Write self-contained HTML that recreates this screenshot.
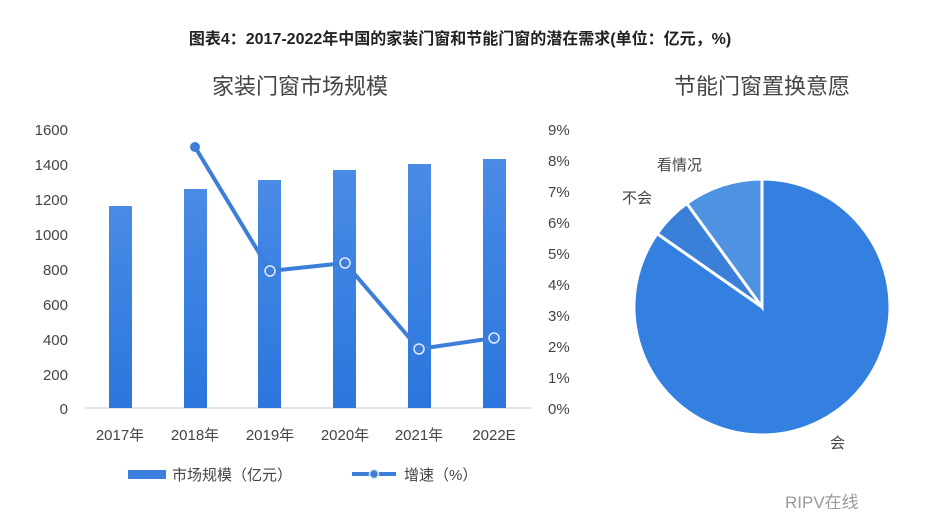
<!DOCTYPE html>
<html><head><meta charset="utf-8"><style>
body{margin:0;background:#fff;}
svg text{font-family:"Liberation Sans","Noto Sans CJK SC",sans-serif;}
</style></head><body>
<svg width="925" height="509" viewBox="0 0 925 509" xmlns="http://www.w3.org/2000/svg">
<defs><linearGradient id="g" x1="0" y1="0" x2="0" y2="1"><stop offset="0" stop-color="#4a8be6"/><stop offset="1" stop-color="#2a76dd"/></linearGradient></defs>
<text x="460" y="44" text-anchor="middle" font-size="16" font-weight="bold" fill="#222">图表4：2017-2022年中国的家装门窗和节能门窗的潜在需求(单位：亿元，%)</text>
<text x="300" y="94" text-anchor="middle" font-size="22" fill="#444">家装门窗市场规模</text>
<text x="762" y="94" text-anchor="middle" font-size="22" fill="#444">节能门窗置换意愿</text>
<g font-size="15" fill="#444" text-anchor="end">
<text x="68" y="135">1600</text><text x="68" y="170">1400</text><text x="68" y="205">1200</text><text x="68" y="240">1000</text><text x="68" y="275">800</text><text x="68" y="310">600</text><text x="68" y="345">400</text><text x="68" y="380">200</text><text x="68" y="414">0</text>
</g>
<g font-size="15" fill="#444">
<text x="548" y="135">9%</text><text x="548" y="166">8%</text><text x="548" y="197">7%</text><text x="548" y="228">6%</text><text x="548" y="259">5%</text><text x="548" y="290">4%</text><text x="548" y="321">3%</text><text x="548" y="352">2%</text><text x="548" y="383">1%</text><text x="548" y="414">0%</text>
</g>
<line x1="85" y1="408" x2="532" y2="408" stroke="#d8dde6" stroke-width="1.5"/>
<g fill="url(#g)">
<rect x="109" y="206" width="23" height="202"/>
<rect x="184" y="189" width="23" height="219"/>
<rect x="258" y="180" width="23" height="228"/>
<rect x="333" y="170" width="23" height="238"/>
<rect x="408" y="164" width="23" height="244"/>
<rect x="483" y="159" width="23" height="249"/>
</g>
<polyline points="195,147 270,271 345,263 419,349 494,338" fill="none" stroke="#3c7ed8" stroke-width="4"/>
<circle cx="195" cy="147" r="5" fill="#3c7ed8"/>
<g fill="#3c7ed8" stroke="#dfeafa" stroke-width="1.5">
<circle cx="270" cy="271" r="5"/><circle cx="345" cy="263" r="5"/><circle cx="419" cy="349" r="5"/><circle cx="494" cy="338" r="5"/>
</g>
<g font-size="15" fill="#444" text-anchor="middle">
<text x="120" y="440">2017年</text><text x="195" y="440">2018年</text><text x="270" y="440">2019年</text><text x="345" y="440">2020年</text><text x="419" y="440">2021年</text><text x="494" y="440">2022E</text>
</g>
<rect x="128" y="470" width="38" height="9" fill="#3a7fe0"/>
<text x="172" y="480" font-size="15" fill="#444">市场规模（亿元）</text>
<line x1="352" y1="474" x2="396" y2="474" stroke="#3c7ed8" stroke-width="4"/>
<circle cx="374" cy="474" r="4.5" fill="#3c7ed8" stroke="#dfeafa" stroke-width="1.5"/>
<text x="404" y="480" font-size="15" fill="#444">增速（%）</text>
<g stroke="#fff" stroke-width="3">
<path d="M762,307 L657.1,233.6 A128,128 0 1,0 762,179 Z" fill="#3380e0"/>
<path d="M762,307 L686.8,203.4 A128,128 0 0,0 657.1,233.6 Z" fill="#3a7fd8"/>
<path d="M762,307 L762,179 A128,128 0 0,0 686.8,203.4 Z" fill="#5092e2"/>
</g>
<text x="657" y="170" font-size="15" fill="#444">看情况</text>
<text x="622" y="203" font-size="15" fill="#444">不会</text>
<text x="830" y="448" font-size="15" fill="#444">会</text>
<text x="785" y="508" font-size="17" fill="#999">RIPV在线</text>
</svg>
</body></html>
